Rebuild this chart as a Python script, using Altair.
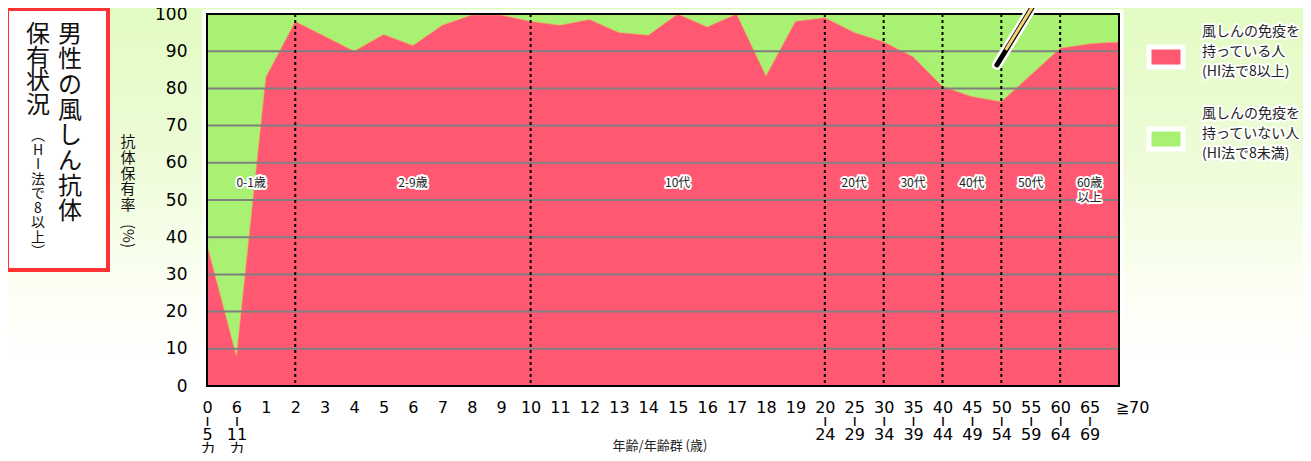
import json
import altair as alt
import pandas as pd

# ---------------- data ----------------
age_labels = ["0~ı~5~カ~月", "6~ı~11~カ~月", "1", "2", "3", "4", "5", "6", "7", "8", "9",
              "10", "11", "12", "13", "14", "15", "16", "17", "18", "19",
              "20~ı~24", "25~ı~29", "30~ı~34", "35~ı~39", "40~ı~44", "45~ı~49",
              "50~ı~54", "55~ı~59", "60~ı~64", "65~ı~69", "≧70"]
immune_pct = [38, 8, 83, 98, 94, 90, 94.5, 91.5, 97, 99.7, 99.7,
              98, 97, 98.5, 95, 94.3, 100, 96.5, 100, 83.3, 98,
              99, 95, 92.5, 88.5, 80.5, 77.8, 76.4, 83.6, 90.8, 92, 92.5]
group_names = ["0-1歳", "2-9歳", "10代", "20代", "30代", "40代", "50代", "60歳~以上"]
group_bounds = [0, 3, 11, 21, 23, 25, 27, 29, 31]
divider_idx = [3, 11, 21, 23, 25, 27, 29]
grid_values = [10, 20, 30, 40, 50, 60, 70, 80, 90]
y_ticks = [0, 10, 20, 30, 40, 50, 60, 70, 80, 90, 100]
group_label_y = 54.5
pointer_x = [26.85, 28.45]
pointer_y = [86.3, 107.0]

legend_pos_text = ["風しんの免疫を", "持っている人", "(HI法で8以上)"]
legend_neg_text = ["風しんの免疫を", "持っていない人", "(HI法で8未満)"]
title_right = list("男性の風しん抗体")
title_left = list("保有状況")
title_small = ["︵", "H", "I", "法", "で", "8", "以", "上", "︶"]
ytitle_chars = list("抗体保有率")

RED = "#ff5872"
GREEN = "#a8f172"
JP = "Noto Sans CJK JP"
NUM = "DejaVu Sans"

W, H = 912, 372
last = len(immune_pct) - 1

df = pd.DataFrame({"idx": list(range(len(immune_pct))), "pct": immune_pct})
groups = pd.DataFrame({
    "name": group_names,
    "center": [(group_bounds[i] + group_bounds[i + 1]) / 2 for i in range(len(group_names))],
    "y": [group_label_y] * len(group_names),
})
dividers = pd.DataFrame({"i": divider_idx})
grid = pd.DataFrame({"v": grid_values})
pointer = pd.DataFrame({"x0": [pointer_x[0]], "x1": [pointer_x[1]],
                        "y0": [pointer_y[0]], "y1": [pointer_y[1]]})
pointer_in = pd.DataFrame({"x0": [pointer_x[0] + 0.3], "x1": [pointer_x[1]],
                           "y0": [pointer_y[0] + 4.0], "y1": [pointer_y[1]]})
one = pd.DataFrame({"k": [0]})

xscale = alt.Scale(domain=[0, last], nice=False, zero=False)
yscale = alt.Scale(domain=[0, 100], nice=False)

all_labels = "|".join(age_labels)
label_expr = f"split(split({json.dumps(all_labels, ensure_ascii=False)}, '|')[datum.value], '~')"

xaxis = alt.Axis(values=list(range(len(immune_pct))), labelExpr=label_expr, labelAngle=0,
                 labelFont=NUM, labelFontSize=16, labelColor="#000", labelLineHeight=13.5,
                 labelPadding=13, labelOverlap=False, labelFlush=False, labelBound=False,
                 labelOffset={"condition": {"test": f"datum.value === {last}", "value": 13}, "value": 0},
                 ticks=False, domain=False, grid=False, title=None, zindex=1)
yaxis = alt.Axis(values=y_ticks, labelFont=NUM, labelFontSize=17, labelColor="#000",
                 labelPadding=20, labelOverlap=False, labelFlush=False, labelBound=False,
                 ticks=False, domain=False, grid=False, title=None, zindex=1)


def XQ(field):
    return alt.X(field, type="quantitative", scale=xscale, axis=xaxis)


def YQ(field):
    return alt.Y(field, type="quantitative", scale=yscale, axis=yaxis)


bg = alt.Chart(one).mark_rect(
    color=alt.LinearGradient(gradient="linear", x1=0, x2=0, y1=0, y2=1, stops=[
        alt.GradientStop(color="#e2fbc2", offset=0),
        alt.GradientStop(color="#eefcd9", offset=0.35),
        alt.GradientStop(color="#fbfff2", offset=0.62),
        alt.GradientStop(color="#ffffff", offset=0.8),
    ])
).encode(x=alt.value(-199), x2=alt.value(1096), y=alt.value(-6), y2=alt.value(439))

frame_halo = alt.Chart(one).mark_rect(fillOpacity=0, stroke="white", strokeWidth=9).encode(
    x=alt.value(0), x2=alt.value(W), y=alt.value(0), y2=alt.value(H))

green = alt.Chart(df).mark_area(color=GREEN).encode(x=XQ("idx"), y=YQ("pct"), y2=alt.datum(100))
red = alt.Chart(df).mark_area(color=RED).encode(x=XQ("idx"), y=YQ("pct"))
edge = alt.Chart(df).mark_line(color="#f0a050", strokeWidth=1, opacity=0.6).encode(
    x=XQ("idx"), y=YQ("pct"))

grid_rules = alt.Chart(grid).mark_rule(color="#808080", strokeWidth=2).encode(y=YQ("v"))
div_rules = alt.Chart(dividers).mark_rule(color="#000", strokeWidth=2, strokeDash=[3, 3]).encode(
    x=XQ("i"))

frame = alt.Chart(one).mark_rect(fillOpacity=0, stroke="#000", strokeWidth=2).encode(
    x=alt.value(0), x2=alt.value(W), y=alt.value(0), y2=alt.value(H))

glab_enc = dict(x=XQ("center"), y=YQ("y"), text="name:N")
glab_halo = alt.Chart(groups).mark_text(font=JP, fontSize=12, lineBreak="~", lineHeight=15,
                                        baseline="middle", stroke="white", strokeWidth=4,
                                        strokeJoin="round", color="white").encode(**glab_enc)
glab = alt.Chart(groups).mark_text(font=JP, fontSize=12, lineBreak="~", lineHeight=15,
                                   baseline="middle", color="#222").encode(**glab_enc)

penc = dict(x=XQ("x0"), x2="x1:Q", y=YQ("y0"), y2="y1:Q")
ptr_white = alt.Chart(pointer).mark_rule(color="white", strokeWidth=10, strokeCap="round").encode(**penc)
ptr_black = alt.Chart(pointer).mark_rule(color="#000", strokeWidth=5, strokeCap="round").encode(**penc)
ptr_yellow = alt.Chart(pointer_in).mark_rule(color="#f6d472", strokeWidth=3).encode(**penc)


# legend
def legend_item(color, lines, top):
    sw = alt.Chart(one).mark_rect(color=color, stroke="white", strokeWidth=5).encode(
        x=alt.value(942), x2=alt.value(976), y=alt.value(top + 22), y2=alt.value(top + 42))
    halo = alt.Chart(one).mark_text(text=lines, font=JP, fontSize=14, lineHeight=20, align="left",
                                    baseline="top", color="white", stroke="white", strokeWidth=4,
                                    strokeJoin="round").encode(x=alt.value(995), y=alt.value(top))
    txt = alt.Chart(one).mark_text(text=lines, font=JP, fontSize=14, lineHeight=20, align="left",
                                   baseline="top", color="#222").encode(x=alt.value(995), y=alt.value(top))
    return [sw, halo, txt]


leg = legend_item(RED, legend_pos_text, 11) + legend_item(GREEN, legend_neg_text, 93)

# title box
tbox = alt.Chart(one).mark_rect(fill="white", stroke="#ff3333", strokeWidth=4).encode(
    x=alt.value(-200), x2=alt.value(-99), y=alt.value(-5), y2=alt.value(256))
t_right = alt.Chart(one).mark_text(text=title_right, font=JP, fontSize=24, lineHeight=25.3,
                                   baseline="top", align="center", color="#111").encode(
    x=alt.value(-137), y=alt.value(9))
t_left = alt.Chart(one).mark_text(text=title_left, font=JP, fontSize=24, lineHeight=23.7,
                                  baseline="top", align="center", color="#111").encode(
    x=alt.value(-169), y=alt.value(9))
t_small = alt.Chart(one).mark_text(text=title_small, font=JP, fontSize=14, lineHeight=14.5,
                                   baseline="top", align="center", color="#111").encode(
    x=alt.value(-169), y=alt.value(115))

# axis titles
yt = alt.Chart(one).mark_text(text=ytitle_chars, font=JP, fontSize=15, lineHeight=15.8,
                              baseline="top", align="center", color="#111").encode(
    x=alt.value(-79), y=alt.value(121))
yt2 = alt.Chart(one).mark_text(text="(%)", font=JP, fontSize=15, angle=90,
                               baseline="middle", align="center", color="#111").encode(
    x=alt.value(-79), y=alt.value(222))
xt = alt.Chart(one).mark_text(text="年齢/年齢群 (歳)", font=JP, fontSize=13,
                              baseline="middle", align="center", color="#222").encode(
    x=alt.value(453), y=alt.value(432))

chart = alt.layer(
    bg, frame_halo, green, red, edge, grid_rules, div_rules, frame,
    glab_halo, glab, ptr_white, ptr_black, ptr_yellow, *leg,
    tbox, t_right, t_left, t_small, yt, yt2, xt
).properties(
    width=W, height=H,
    autosize=alt.AutoSizeParams(type="none"),
    padding={"left": 199, "top": 6, "right": 184, "bottom": 67},
).configure_view(stroke=None).configure_axis(
    labelOverlap=False, labelFlush=False
).configure(background="white")

chart.save("out.html", embed_options={"renderer": "svg", "actions": False})
